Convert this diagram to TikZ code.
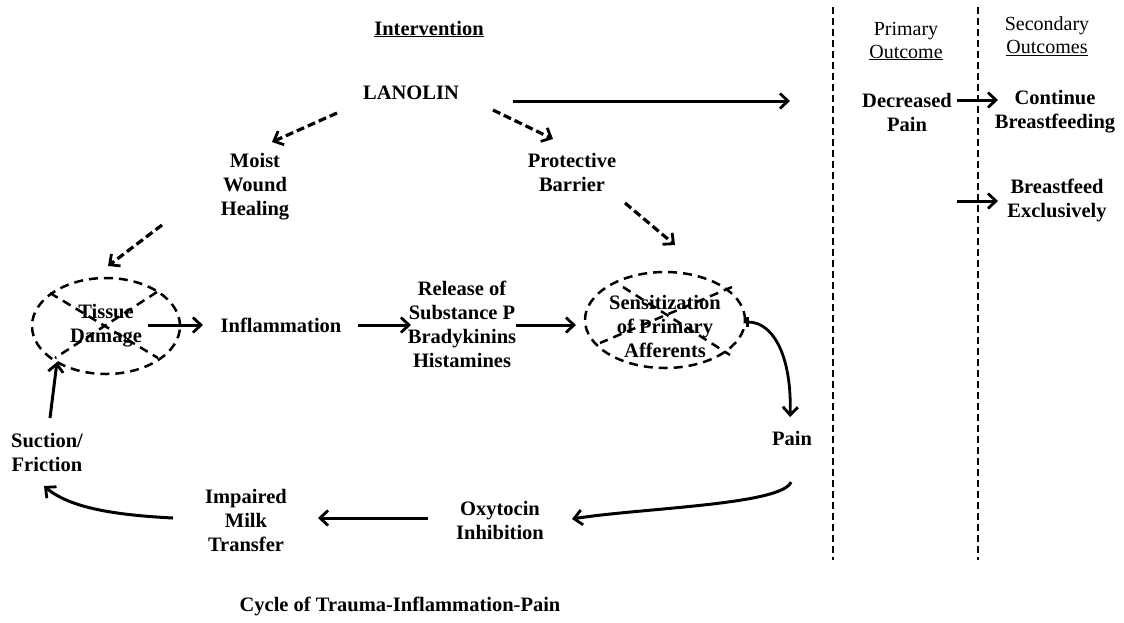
\documentclass[tikz,border=0pt]{standalone}
\usepackage{fontspec}
\setmainfont{Liberation Serif}
\usetikzlibrary{arrows.meta,shapes.geometric}
\begin{document}
\begin{tikzpicture}[x=1pt,y=-1pt,
  lbl/.style={font=\fontsize{20.5}{24}\selectfont\bfseries,align=center,inner sep=1pt},
  hdr/.style={font=\fontsize{20}{23}\selectfont,align=center,inner sep=1pt},
  barb/.tip={Straight Barb[length=8pt,width=15pt,line width=2.8pt]},
  solidarr/.style={line width=3pt,-barb},
  dasharr/.style={line width=3.2pt,dash pattern=on 8pt off 4pt,-barb},
  dashline/.style={line width=2.5pt,dash pattern=on 9pt off 6pt},
  sepline/.style={line width=2.6pt,dash pattern=on 7pt off 4pt},
  crossed/.style={ellipse,draw,dashline,inner sep=0pt}]
\useasboundingbox (0,0) rectangle (1124,622);

% headings
\node[lbl] (int) at (429,29) {\underline{Intervention}};
\node[hdr] (prim) at (906,41) {Primary\\\underline{Outcome}};
\node[hdr] (sec) at (1047,36) {Secondary\\\underline{Outcomes}};

% column separators
\coordinate (s1t) at (833,7); \coordinate (s1b) at (833,560);
\coordinate (s2t) at (978,7); \coordinate (s2b) at (978,560);
\draw[sepline] (s1t) -- (s1b);
\draw[sepline] (s2t) -- (s2b);

% intervention branch
\node[lbl] (lan) at (411,93) {LANOLIN};
\node[lbl] (moist) at (255,187) {Moist\\Wound\\Healing};
\node[lbl] (prot) at (572,172) {Protective\\Barrier};

% cycle
\node[crossed,minimum width=148pt,minimum height=96pt] (tis) at (106,326) {};
\node[lbl] (tist) at (106,326) {Tissue\\Damage};
\node[lbl] (infl) at (281,325) {Inflammation};
\node[lbl] (rel) at (462,324) {Release of\\Substance P\\Bradykinins\\Histamines};
\node[crossed,minimum width=160pt,minimum height=96pt] (sens) at (665,320) {};
\node[lbl] (senst) at (665,326) {Sensitization\\of Primary\\Afferents};
\node[lbl] (pain) at (792,438) {Pain};
\node[lbl] (oxy) at (500,520) {Oxytocin\\Inhibition};
\node[lbl] (milk) at (246,520) {Impaired\\Milk\\Transfer};
\node[lbl] (suc) at (47,452) {Suction/\\Friction};

% outcomes
\node[lbl] (dec) at (907,112) {Decreased\\Pain};
\node[lbl] (cont) at (1055,112) {Continue\\Breastfeeding};
\node[lbl] (excl) at (1057,200) {Breastfeed\\Exclusively};

\node[lbl] (cyc) at (400,606) {Cycle of Trauma-Inflammation-Pain};

% crossing-out lines over the two dashed ellipses
\coordinate (ta1) at (50,293);  \coordinate (tb1) at (158,358);
\coordinate (ta2) at (157,292); \coordinate (tb2) at (55,358);
\draw[dashline] (ta1) -- (tb1);
\draw[dashline] (ta2) -- (tb2);
\coordinate (sa1) at (623,287); \coordinate (sb1) at (730,355);
\coordinate (sa2) at (732,287); \coordinate (sb2) at (600,343);
\draw[dashline] (sa1) -- (sb1);
\draw[dashline] (sa2) -- (sb2);

% arrow end points
\coordinate (lanL) at (337,113);  \coordinate (moistT) at (272,142);
\coordinate (lanR) at (493,110);  \coordinate (protT) at (553,139);
\coordinate (moistB) at (162,225); \coordinate (tisT) at (108,266);
\coordinate (protB) at (625,203); \coordinate (sensT) at (675,245);
\coordinate (lanE) at (513,101);  \coordinate (lanEnd) at (790,101);
\coordinate (tisE) at (148,325);  \coordinate (inflW) at (203,325);
\coordinate (inflE) at (358,325); \coordinate (relW) at (411,325);
\coordinate (relE) at (516,325);  \coordinate (sensW) at (576,325);
\coordinate (sensE) at (746,322); \coordinate (painT) at (790,417);
\coordinate (painB) at (791,482); \coordinate (oxyE) at (572,519);
\coordinate (oxyW) at (428,518);  \coordinate (milkE) at (318,518);
\coordinate (milkW) at (173,518); \coordinate (sucB) at (44,486);
\coordinate (sucT) at (50,418);   \coordinate (tisB) at (57,362);
\coordinate (decE) at (957,100);  \coordinate (contW) at (998,100);
\coordinate (exW0) at (957,201);  \coordinate (exW) at (998,201);

% dashed intervention arrows
\draw[dasharr] (lanL) -- (moistT);
\draw[dasharr] (lanR) -- (protT);
\draw[dasharr] (moistB) -- (tisT);
\draw[dasharr] (protB) -- (sensT);

% solid arrows
\draw[solidarr] (lanE) -- (lanEnd);
\draw[solidarr] (tisE) -- (inflW);
\draw[solidarr] (inflE) -- (relW);
\draw[solidarr] (relE) -- (sensW);
\draw[line width=2.8pt,{Bar[width=10pt,line width=2.6pt]}-barb] (sensE) .. controls (775,322) and (792,360) .. (painT);
\draw[solidarr] (painB) .. controls (782,505) and (640,508) .. (oxyE);
\draw[solidarr] (oxyW) -- (milkE);
\draw[solidarr] (milkW) .. controls (115,515) and (70,508) .. (sucB);
\draw[solidarr] (sucT) -- (tisB);
\draw[solidarr] (decE) -- (contW);
\draw[solidarr] (exW0) -- (exW);
\end{tikzpicture}
\end{document}
